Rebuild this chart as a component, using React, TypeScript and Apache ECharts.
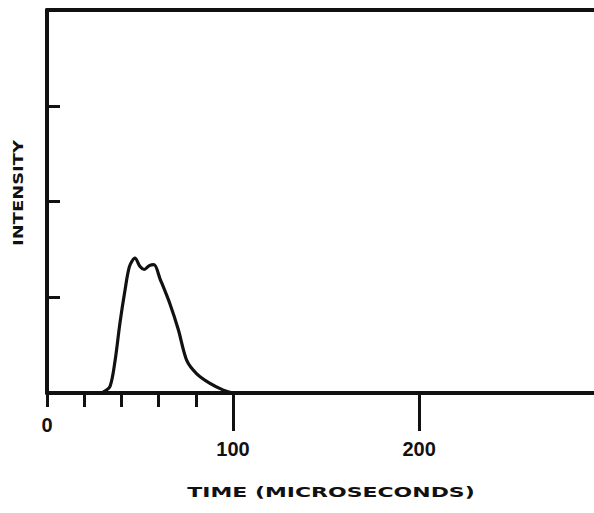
import React, { useEffect, useRef } from "react";
import * as echarts from "echarts";

const timeUs = [28, 30.3, 33.9, 36.6, 39.2, 41.9, 44.3, 47.3, 50, 52.3, 55, 57.5, 60.8, 66.1, 70.6, 75.1, 80.5, 87.6, 94.8, 100];
const intensity = [0, 0.01, 0.07, 0.34, 0.73, 1.07, 1.32, 1.41, 1.32, 1.29, 1.33, 1.34, 1.19, 0.93, 0.66, 0.34, 0.2, 0.1, 0.03, 0];
const minorTicks = [0, 20, 40, 60, 80];
const majorTicks = [100, 200];
const yTicks = [1, 2, 3];
const xTitle = "TIME (MICROSECONDS)";
const yTitle = "INTENSITY";

export default function App() {
  const ref = useRef<HTMLDivElement>(null);
  useEffect(() => {
    if (!ref.current) return;
    const chart = echarts.init(ref.current, null, { renderer: "svg" });
    const ink = "#111";
    const font = "DejaVu Sans";
    const digitFont = "Liberation Sans";
    chart.setOption({
      animation: false,
      backgroundColor: "#fff",
      grid: { left: 47, right: 0, top: 10, bottom: 120 },
      xAxis: [
        {
          type: "value", min: 0, max: 294, position: "bottom",
          axisLine: { show: true, lineStyle: { color: ink, width: 4 } },
          axisTick: { show: true, customValues: minorTicks, length: 14, lineStyle: { color: ink, width: 3 } },
          axisLabel: { show: true, customValues: [0], margin: 22, color: ink, fontSize: 20, fontWeight: "bold", fontFamily: digitFont },
          splitLine: { show: false },
        },
        {
          type: "value", min: 0, max: 294, position: "bottom",
          axisLine: { show: false },
          axisTick: { show: true, customValues: majorTicks, length: 38, lineStyle: { color: ink, width: 3 } },
          axisLabel: { show: true, customValues: majorTicks, margin: 46, color: ink, fontSize: 20, fontWeight: "bold", fontFamily: digitFont },
          splitLine: { show: false },
        },
        {
          type: "value", min: 0, max: 294, position: "top",
          axisLine: { show: true, lineStyle: { color: ink, width: 4 } },
          axisTick: { show: false }, axisLabel: { show: false }, splitLine: { show: false },
        },
      ],
      yAxis: {
        type: "value", min: 0, max: 4, interval: 1,
        axisLine: { show: true, lineStyle: { color: ink, width: 4 } },
        axisTick: { show: true, inside: true, customValues: yTicks, length: 13, lineStyle: { color: ink, width: 3 } },
        axisLabel: { show: false },
        splitLine: { show: false },
      },
      series: [
        {
          type: "line",
          xAxisIndex: 0,
          data: timeUs.map((t, i) => [t, intensity[i]]),
          smooth: 0.3,
          showSymbol: false,
          lineStyle: { color: ink, width: 3.2 },
        },
      ],
      graphic: [
        {
          type: "text", x: 331, y: 492, scaleX: 1.57,
          style: { text: xTitle, font: `bold 14px "${font}"`, fill: ink, textAlign: "center", textVerticalAlign: "middle" },
        },
        {
          type: "text", x: 18, y: 193, rotation: Math.PI / 2, scaleX: 1.28,
          style: { text: yTitle, font: `bold 14px "${font}"`, fill: ink, textAlign: "center", textVerticalAlign: "middle" },
        },
      ],
    });
    return () => chart.dispose();
  }, []);
  return <div ref={ref} style={{ width: 594, height: 513, position: "absolute", left: 0, top: 0 }} />;
}
